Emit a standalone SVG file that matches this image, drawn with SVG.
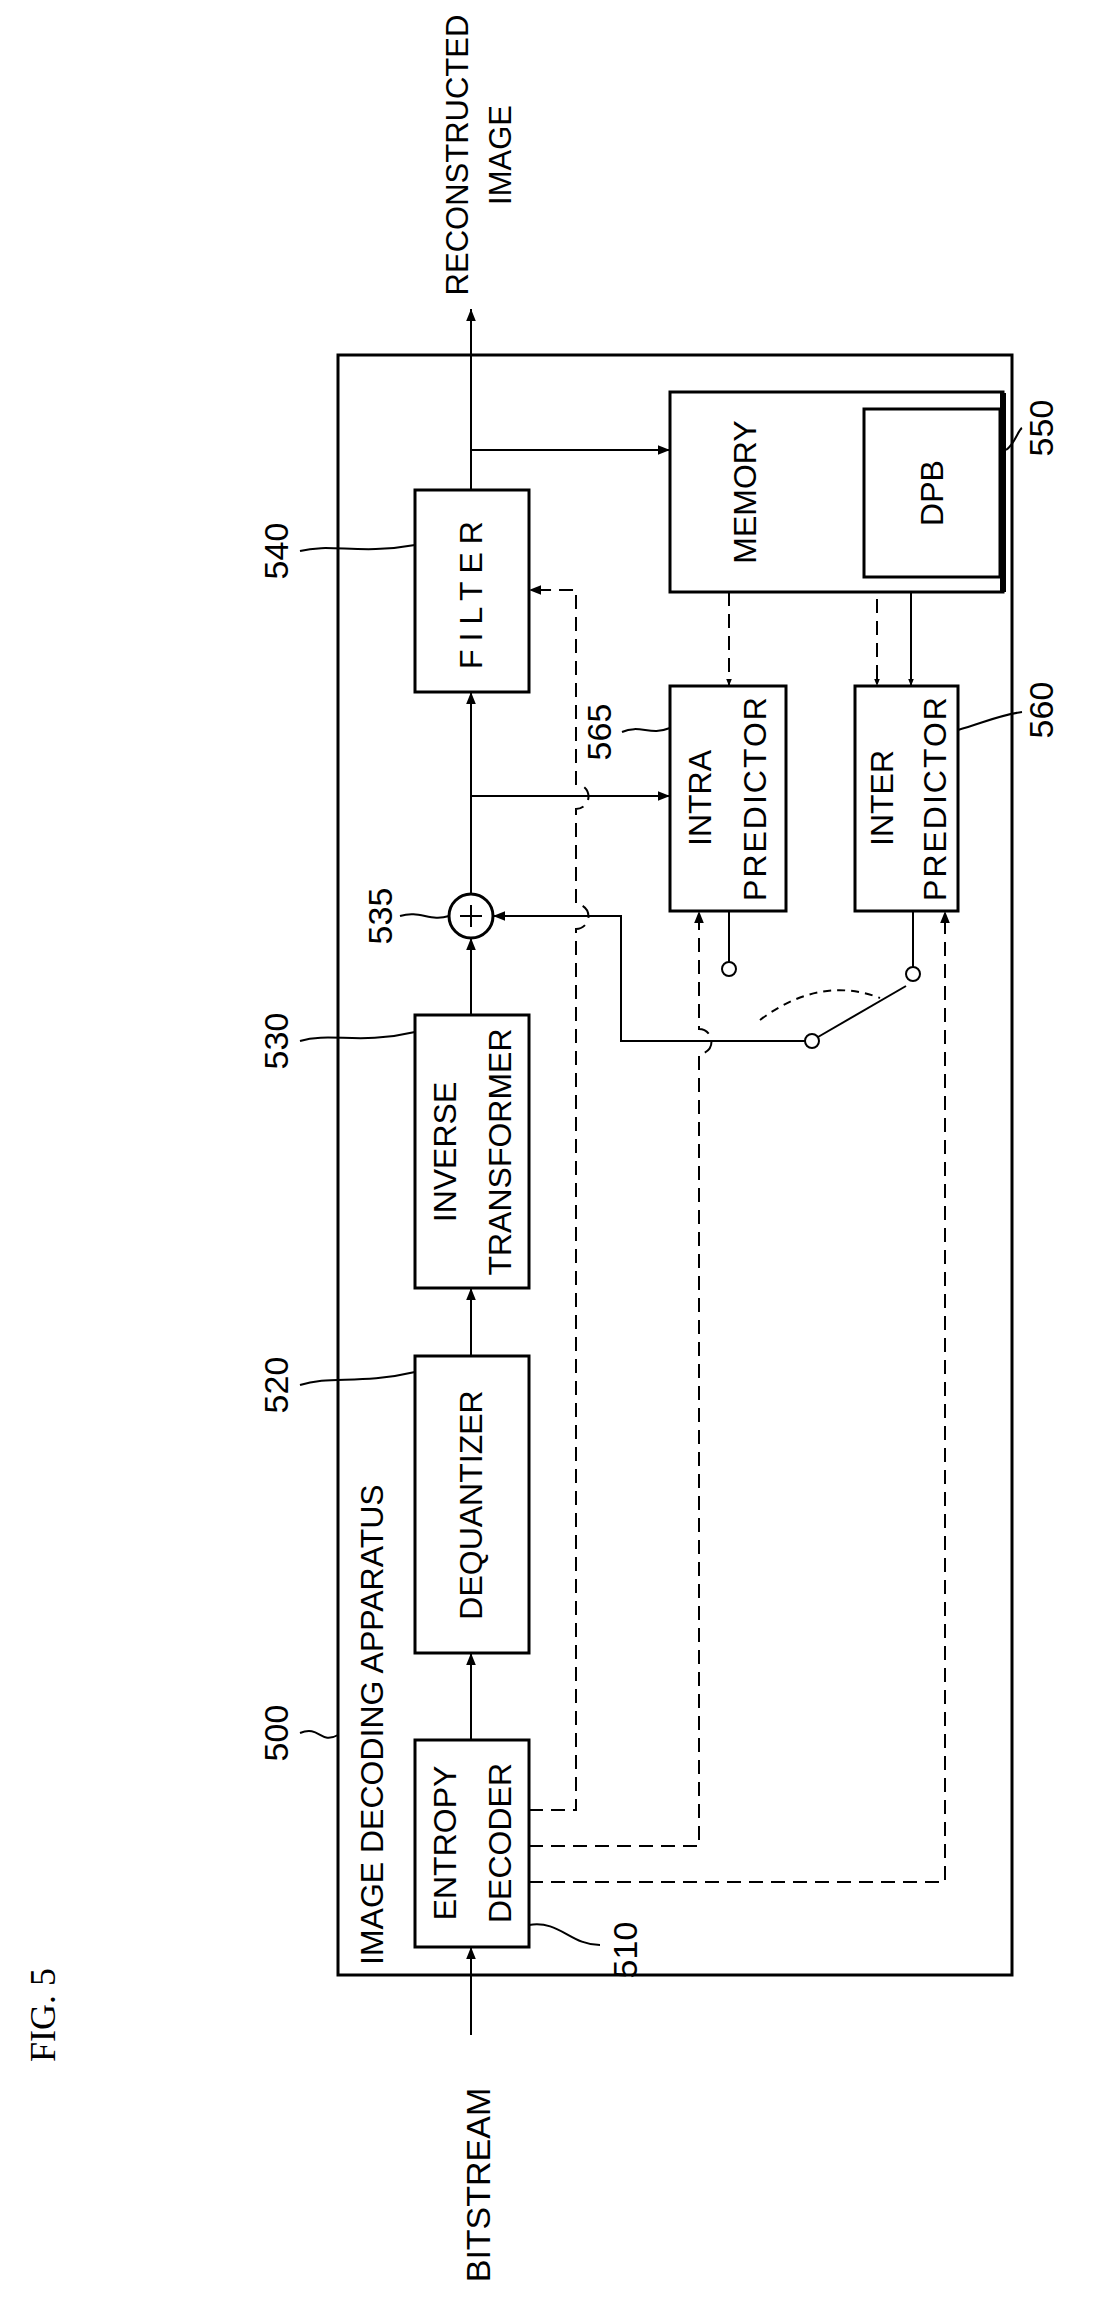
<svg xmlns="http://www.w3.org/2000/svg" width="1114" height="2306" viewBox="0 0 1114 2306">
<style>
.b{fill:#fff;stroke:#000;stroke-width:3}
.l{fill:none;stroke:#000;stroke-width:2}
.d{fill:none;stroke:#000;stroke-width:2;stroke-dasharray:14 8}
.t{font-family:"Liberation Sans",Arial,sans-serif;font-size:32px;text-anchor:middle;dominant-baseline:central}
.n{font-family:"Liberation Sans",Arial,sans-serif;font-size:34px;text-anchor:middle;dominant-baseline:central}
</style>
<defs><marker id="a" viewBox="0 0 10 10" refX="10" refY="5" markerWidth="7" markerHeight="7" orient="auto" markerUnits="userSpaceOnUse"><path d="M0,1 L10,5 L0,9z" fill="#000"/></marker>
<marker id="A" viewBox="0 0 10 10" refX="10" refY="5" markerWidth="14" markerHeight="12" orient="auto" markerUnits="userSpaceOnUse"><path d="M0,1 L10,5 L0,9z" fill="#000"/></marker></defs>
<text x="43" y="2015" transform="rotate(-90 43 2015)" style="font-family:'Liberation Serif',serif;font-size:36px;text-anchor:middle;dominant-baseline:central">FIG. 5</text>
<rect x="338" y="355" width="674" height="1620" fill="none" stroke="#000" stroke-width="3"/>
<text class="t" x="372" y="1965" transform="rotate(-90 372 1965)" style="text-anchor:start">IMAGE DECODING APPARATUS</text>
<g id="connectors">
<path class="l" d="M471,2035 V1947" marker-end="url(#A)"/>
<path class="l" d="M471,1740 V1653" marker-end="url(#A)"/>
<path class="l" d="M471,1356 V1288" marker-end="url(#A)"/>
<path class="l" d="M471,1015 V938" marker-end="url(#A)"/>
<path class="l" d="M471,894 V692" marker-end="url(#A)"/>
<path class="l" d="M471,490 V309" marker-end="url(#A)"/>
<path class="l" d="M471,450 H670" marker-end="url(#A)"/>
<path class="l" d="M471,796 H670" marker-end="url(#A)"/>
<path class="d" d="M529,1810 H576 V929 A7,7 0 0 0 576,904 V809 A7,7 0 0 0 576,784 V590 H529" marker-end="url(#A)"/>
<path class="d" d="M529,1846 H699 V1054 A7,7 0 0 0 699,1029 V911" marker-end="url(#A)"/>
<path class="d" d="M529,1882 H945 V911" marker-end="url(#A)"/>
<path class="l" d="M806,1041 H621 V916 H493" marker-end="url(#A)"/>
<path class="l" d="M729,911 V962"/><circle cx="729" cy="969" r="7" class="l"/>
<path class="l" d="M913,911 V967"/><circle cx="913" cy="974" r="7" class="l"/>
<circle cx="812" cy="1041" r="7" class="l"/>
<path class="l" d="M818,1037 L906,986"/>
<path class="d" d="M760,1020 Q820,975 880,998" style="stroke-dasharray:8 6"/>
<path class="d" d="M729,592 V686" marker-end="url(#a)"/>
<path class="d" d="M877,577 V686" marker-end="url(#a)"/>
<path class="l" d="M911,577 V686" marker-end="url(#a)"/>
</g>
<g id="n510"><rect class="b" x="415" y="1740" width="114" height="207"/>
<text class="t" x="445" y="1843" transform="rotate(-90 445 1843)">ENTROPY</text>
<text class="t" x="500" y="1843" transform="rotate(-90 500 1843)">DECODER</text></g>
<g id="n520"><rect class="b" x="415" y="1356" width="114" height="297"/>
<text class="t" x="471" y="1505" transform="rotate(-90 471 1505)">DEQUANTIZER</text></g>
<g id="n530"><rect class="b" x="415" y="1015" width="114" height="273"/>
<text class="t" x="445" y="1152" transform="rotate(-90 445 1152)">INVERSE</text>
<text class="t" x="500" y="1152" transform="rotate(-90 500 1152)">TRANSFORMER</text></g>
<g id="n535"><circle cx="471" cy="916" r="22" fill="#fff" stroke="#000" stroke-width="3"/><path class="l" d="M460,916 H482 M471,905 V927"/></g>
<g id="n540"><rect class="b" x="415" y="490" width="114" height="202"/>
<text class="t" x="471" y="591" transform="rotate(-90 471 591)" letter-spacing="8">FILTER</text></g>
<g id="n550"><rect class="b" x="670" y="392" width="333" height="200"/><path d="M1003,393 V592" stroke="#000" stroke-width="6"/>
<text class="t" x="745" y="492" transform="rotate(-90 745 492)">MEMORY</text>
<rect class="b" x="864" y="409" width="136" height="168"/>
<text class="t" x="932" y="493" transform="rotate(-90 932 493)">DPB</text></g>
<g id="n565"><rect class="b" x="670" y="686" width="116" height="225"/>
<text class="t" x="700" y="798" transform="rotate(-90 700 798)">INTRA</text>
<text class="t" x="755" y="798" transform="rotate(-90 755 798)" letter-spacing="2">PREDICTOR</text></g>
<g id="n560"><rect class="b" x="855" y="686" width="103" height="225"/>
<text class="t" x="882" y="798" transform="rotate(-90 882 798)">INTER</text>
<text class="t" x="935" y="798" transform="rotate(-90 935 798)" letter-spacing="2">PREDICTOR</text></g>
<g id="labels">
<text class="t" x="478" y="2185" transform="rotate(-90 478 2185)" style="font-size:34px">BITSTREAM</text>
<text class="t" x="457" y="155" transform="rotate(-90 457 155)" style="font-size:31px">RECONSTRUCTED</text>
<text class="t" x="500" y="155" transform="rotate(-90 500 155)" style="font-size:31px">IMAGE</text>
<text class="n" x="276" y="1733" transform="rotate(-90 276 1733)">500</text>
<text class="n" x="625" y="1950" transform="rotate(-90 625 1950)">510</text>
<text class="n" x="276" y="1385" transform="rotate(-90 276 1385)">520</text>
<text class="n" x="276" y="1041" transform="rotate(-90 276 1041)">530</text>
<text class="n" x="380" y="916" transform="rotate(-90 380 916)">535</text>
<text class="n" x="276" y="551" transform="rotate(-90 276 551)">540</text>
<text class="n" x="599" y="732" transform="rotate(-90 599 732)">565</text>
<text class="n" x="1041" y="428" transform="rotate(-90 1041 428)">550</text>
<text class="n" x="1041" y="710" transform="rotate(-90 1041 710)">560</text>
<path class="l" d="M300,1733 C320,1725 320,1745 338,1735"/>
<path class="l" d="M529,1925 C560,1920 570,1945 600,1945"/>
<path class="l" d="M300,1385 C330,1375 360,1385 415,1372"/>
<path class="l" d="M300,1041 C330,1032 360,1045 415,1032"/>
<path class="l" d="M400,916 C420,910 430,922 449,916"/>
<path class="l" d="M300,551 C330,543 360,555 415,545"/>
<path class="l" d="M622,732 C640,724 650,736 670,728"/>
<path class="l" d="M1006,450 C1015,444 1018,430 1022,428"/>
<path class="l" d="M958,730 C985,722 1000,715 1022,712"/>
</g>
</svg>
